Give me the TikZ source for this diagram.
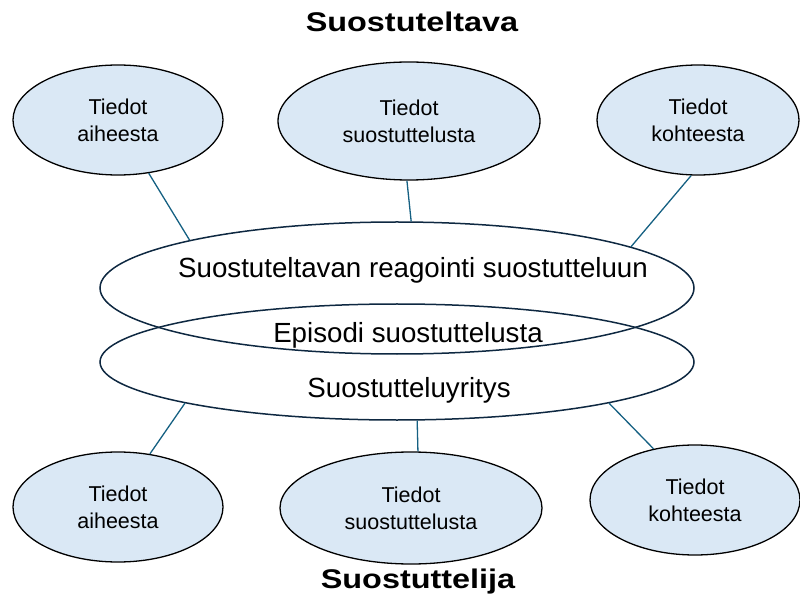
\documentclass[tikz,border=0pt]{standalone}
\usepackage{fontspec}
\usepackage{graphicx}
\setmainfont{Liberation Sans}
\usetikzlibrary{shapes.geometric}
\definecolor{infofill}{HTML}{DAE8F5}
\definecolor{bigline}{HTML}{0E2841}
\definecolor{linkcol}{HTML}{156082}
\newcommand{\widetitle}[1]{\scalebox{1.2}[1]{#1}}
\tikzset{
  info/.style={ellipse, draw=black, line width=1.3pt, fill=infofill, inner sep=0pt,
    align=center, font=\fontsize{21.5}{27}\selectfont},
  bigell/.style={ellipse, draw=bigline, line width=1.5pt, inner sep=0pt},
  bigtext/.style={font=\fontsize{27.7}{30}\selectfont, inner sep=0pt},
  title/.style={font=\fontsize{27}{32}\selectfont\bfseries, inner sep=0pt},
  link/.style={draw=linkcol, line width=1.3pt}
}
\begin{document}
\begin{tikzpicture}[x=1pt,y=-1pt]
\useasboundingbox (0,0) rectangle (800,601);
% titles
\node[title] (t1) at (412,22) {\widetitle{Suostuteltava}};
\node[title] (t2) at (418,582) {\widetitle{Suostuttelija}};
% big ellipses
\node[bigell, minimum width=594pt, minimum height=132pt] (b1) at (397,288) {};
\node[bigell, minimum width=594pt, minimum height=116pt] (b2) at (397,362) {};
\node[bigtext] (x1) at (413,270) {Suostuteltavan reagointi suostutteluun};
\node[bigtext] (x2) at (408,335) {Episodi suostuttelusta};
\node[bigtext] (x3) at (409,390) {Suostutteluyritys};
% top info ellipses
\node[info, minimum width=210pt, minimum height=110pt] (tl) at (118,120) {Tiedot\\aiheesta};
\node[info, minimum width=262pt, minimum height=118pt] (tm) at (409,121) {Tiedot\\suostuttelusta};
\node[info, minimum width=202pt, minimum height=110pt] (tr) at (698,120) {Tiedot\\kohteesta};
% bottom info ellipses
\node[info, minimum width=210pt, minimum height=110pt] (bl) at (118,507) {Tiedot\\aiheesta};
\node[info, minimum width=262pt, minimum height=112pt] (bm) at (411,508) {Tiedot\\suostuttelusta};
\node[info, minimum width=210pt, minimum height=110pt] (br) at (695,500) {Tiedot\\kohteesta};
% connectors
\draw[link] (tl.-60) -- (b1.167.6);
\draw[link] (tm.-92) -- (b1.78.2);
\draw[link] (tr.-97.6) -- (b1.10.4);
\draw[link] (b2.191.3) -- (bl.59.2);
\draw[link] (b2.-71.3) -- (bm.83.1);
\draw[link] (b2.-11.2) -- (br.129.5);
\end{tikzpicture}
\end{document}
